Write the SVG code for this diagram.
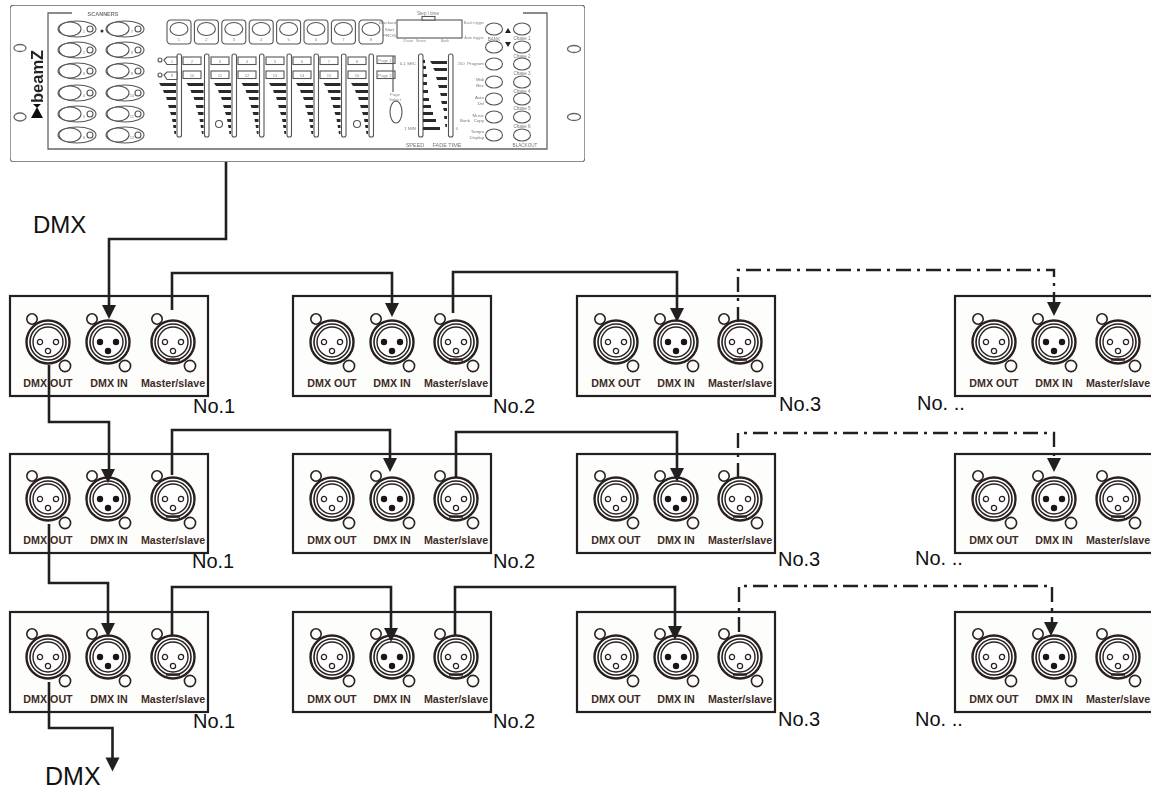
<svg xmlns="http://www.w3.org/2000/svg" width="1151" height="790" viewBox="0 0 1151 790">
<style>
text{font-family:"Liberation Sans",Arial,sans-serif}
.box{fill:#fdfdfb;stroke:#231f20;stroke-width:2.2}
.jl{font-size:10.7px;font-weight:700;fill:#3d2b26;text-anchor:middle}
.no{font-size:20px;fill:#111}
.big{font-size:24px;fill:#111}
.wire{fill:none;stroke:#231f20;stroke-width:2.6}
.dash{fill:none;stroke:#231f20;stroke-width:2.4;stroke-dasharray:15 6 3 6}
.head{fill:#231f20}
.pl{fill:none;stroke:#666;stroke-width:1.3}
.ph{fill:#fff;stroke:#555;stroke-width:1.1}
.t{font-size:4.6px;fill:#777;text-anchor:middle}
.te{font-size:4.4px;fill:#777;text-anchor:end}
.ts{font-size:4.2px;fill:#888;text-anchor:middle}
.tl{font-size:5.5px;fill:#777;text-anchor:middle}
.r{fill:none;stroke:#2a2020}
</style>
<defs>
<filter id="soft" x="0" y="0" width="1" height="1"><feGaussianBlur stdDeviation="0.35"/></filter>
<g id="ring">
<circle class="r" cx="-16" cy="-23" r="5.2" stroke-width="1.6" fill="#fff"/>
<circle class="r" cx="17" cy="24" r="5.6" stroke-width="1.6" fill="#fff"/>
<circle cx="0" cy="0" r="21.5" fill="#fff" stroke="#2a2020" stroke-width="2.4"/>
<circle class="r" r="18" stroke-width="1.6"/>
<circle class="r" r="15" stroke-width="1.4"/>
</g>
<g id="xlr-open"><use href="#ring"/>
<circle class="r" cx="-8" cy="0" r="2.6" stroke-width="1.3"/><circle class="r" cx="8" cy="0" r="2.6" stroke-width="1.3"/><circle class="r" cx="0" cy="9" r="2.6" stroke-width="1.3"/></g>
<g id="xlr-in"><use href="#ring"/>
<circle cx="-8" cy="0" r="3.2" fill="#1d1515"/><circle cx="8" cy="0" r="3.2" fill="#1d1515"/><circle cx="0" cy="9" r="3.2" fill="#1d1515"/></g>
<g id="xlr-ms"><use href="#xlr-open"/><path d="M-7 17.5h14" stroke="#2a2020" stroke-width="2.4"/></g>
<g id="fader">
<rect class="ph" x="-2" y="54" width="4.5" height="83" rx="2"/>
<path fill="#2b2b2b" d="M-20 83h17v3h-15zM-16 90h13v3h-12zM-13 97h10v3h-9zM-11 105h8v3h-7zM-9 112h6v3h-5zM-7 119h4v3h-3.500zM-6 125h3v3h-2.500zM-5 131h2v3h-1.500z"/>
</g>
<g id="scan">
<ellipse class="ph" rx="19" ry="8"/><ellipse class="ph" cx="-7" rx="11" ry="7"/><circle class="ph" cx="13" r="3"/>
</g>
<g id="top"><rect class="ph" x="0" y="0" width="24" height="24" rx="3.500"/><ellipse class="ph" cx="12" cy="9" rx="9" ry="6.500"/></g>
<ellipse id="btn" class="ph" rx="8.500" ry="6"/>
<rect id="cell" class="ph" width="18" height="7.500"/>
<path id="ah" class="head" d="M-7 0H7L0 14Z"/>
</defs>

<g id="controller">
<g filter="url(#soft)">
<rect class="pl" x="10" y="5" width="575" height="157" rx="4"/>
<path class="pl" d="M72 13H48V149H547V13H523"/>
<ellipse class="pl" cx="20" cy="48" rx="6" ry="3.500"/><ellipse class="pl" cx="20" cy="117" rx="6" ry="4"/>
<ellipse class="pl" cx="574" cy="49" rx="6.500" ry="3.500"/><ellipse class="pl" cx="574" cy="117" rx="6.500" ry="3.500"/>
<text transform="translate(43,103) rotate(-90)" font-size="16.500" font-weight="700" fill="#222">beamZ</text>
<path fill="#111" d="M31 118L37 107L43 118ZM33 104h8l-4 4z"/>
<text class="tl" x="103" y="16" style="font-weight:700">SCANNERS</text>
<circle cx="102" cy="31" r="1.500" fill="#333"/>
<use href="#scan" x="77" y="29"/><use href="#scan" x="125" y="29"/>
<use href="#scan" x="77" y="50"/><use href="#scan" x="125" y="50"/>
<use href="#scan" x="77" y="71"/><use href="#scan" x="125" y="71"/>
<use href="#scan" x="77" y="93"/><use href="#scan" x="125" y="93"/>
<use href="#scan" x="77" y="114"/><use href="#scan" x="125" y="114"/>
<use href="#scan" x="77" y="135"/><use href="#scan" x="125" y="135"/>
<text class="ts" x="84" y="33">1</text><text class="ts" x="132" y="33">7</text>
<text class="ts" x="84" y="54">2</text><text class="ts" x="132" y="54">8</text>
<text class="ts" x="84" y="75">3</text><text class="ts" x="132" y="75">9</text>
<text class="ts" x="84" y="97">4</text><text class="ts" x="132" y="97">10</text>
<text class="ts" x="84" y="118">5</text><text class="ts" x="132" y="118">11</text>
<text class="ts" x="84" y="139">6</text><text class="ts" x="132" y="139">12</text>
<use href="#top" x="167" y="20"/><use href="#top" x="194.400" y="20"/><use href="#top" x="221.800" y="20"/><use href="#top" x="249.200" y="20"/><use href="#top" x="276.600" y="20"/><use href="#top" x="304" y="20"/><use href="#top" x="331.400" y="20"/><use href="#top" x="359" y="20"/>
<text class="ts" x="179" y="41">1</text><text class="ts" x="206.400" y="41">2</text><text class="ts" x="233.800" y="41">3</text><text class="ts" x="261.200" y="41">4</text><text class="ts" x="288.600" y="41">5</text><text class="ts" x="316" y="41">6</text><text class="ts" x="343.400" y="41">7</text><text class="ts" x="371" y="41">8</text>
<use href="#fader" x="179"/><use href="#fader" x="206.500"/><use href="#fader" x="234"/><use href="#fader" x="261.500"/><use href="#fader" x="289"/><use href="#fader" x="316"/><use href="#fader" x="343.500"/><use href="#fader" x="371"/>
<circle class="ph" cx="160" cy="60" r="2"/><circle class="ph" cx="160" cy="75" r="2"/>
<path class="ph" d="M164 60l3-3h10v7.500h-10zM164 75l3-3h10v7.500h-10z"/>
<use href="#cell" x="183" y="57"/><use href="#cell" x="183" y="71"/>
<use href="#cell" x="211" y="57"/><use href="#cell" x="211" y="71"/>
<use href="#cell" x="238" y="57"/><use href="#cell" x="238" y="71"/>
<use href="#cell" x="266" y="57"/><use href="#cell" x="266" y="71"/>
<use href="#cell" x="293" y="57"/><use href="#cell" x="293" y="71"/>
<use href="#cell" x="320" y="57"/><use href="#cell" x="320" y="71"/>
<use href="#cell" x="348" y="57"/><use href="#cell" x="348" y="71"/>
<text class="ts" x="172" y="62.500">1</text><text class="ts" x="192" y="62.500">2</text><text class="ts" x="220" y="62.500">3</text><text class="ts" x="247" y="62.500">4</text><text class="ts" x="275" y="62.500">5</text><text class="ts" x="302" y="62.500">6</text><text class="ts" x="329" y="62.500">7</text><text class="ts" x="357" y="62.500">8</text>
<text class="ts" x="172" y="77">9</text><text class="ts" x="192" y="77">10</text><text class="ts" x="220" y="77">11</text><text class="ts" x="247" y="77">12</text><text class="ts" x="275" y="77">13</text><text class="ts" x="302" y="77">14</text><text class="ts" x="329" y="77">15</text><text class="ts" x="357" y="77">16</text>
<circle class="ph" cx="219" cy="124" r="3.500"/><circle class="ph" cx="357" cy="124" r="3.500"/>
<use href="#cell" x="377" y="56"/><use href="#cell" x="377" y="71"/>
<path class="pl" d="M393 56V92"/>
<text class="ts" x="385" y="62">Page 1</text><text class="ts" x="385" y="77">Page 2</text>
<text class="ts" x="395" y="96">Page</text><text class="ts" x="395" y="101">Select</text>
<ellipse class="ph" cx="396" cy="112" rx="6" ry="11"/>
<rect class="ph" x="397" y="20" width="65" height="18"/>
<rect class="ph" x="422" y="16.500" width="13" height="3.500"/>
<text class="t" x="428" y="15">Step / time</text>
<text class="te" x="396" y="24">Blackout</text><text class="te" x="394" y="31">Start</text><text class="te" x="396" y="37">PROG</text>
<text class="ts" x="474" y="24" style="font-size:3.800px">Back trigger</text><text class="ts" x="474" y="39" style="font-size:3.800px">Auto trigger</text>
<text class="ts" x="408" y="42" style="font-size:3.600px">Chase</text><text class="ts" x="421" y="42" style="font-size:3.600px">Scene</text><text class="ts" x="445" y="42" style="font-size:3.600px">Bank</text>
<rect class="ph" x="418.500" y="54" width="4.500" height="83" rx="2"/>
<rect class="ph" x="448.500" y="54" width="4.500" height="83" rx="2"/>
<path fill="#2b2b2b" d="M423 60h2v3h-2zM423 66h3v3h-3zM423 74h4v3h-4zM423 82h4v3h-4zM423 90h5v3h-5zM423 98h6v3h-6zM423 105h8v3h-8zM423 112h10v3h-10zM423 119h13v3h-13zM423 127h17v3h-17z"/>
<path fill="#2b2b2b" d="M430 61h17v3h-15zM433 68h14v3h-12zM436 77h11v3h-10zM438 85h9v3h-8zM440 93h7v3h-6zM441 101h6v3h-5zM443 108h4v3h-3zM444 116h3v3h-2.500zM445 124h2v3h-1.500z"/>
<text class="te" x="416" y="65">0.1 SEC</text><text class="te" x="416" y="130">1 MIN</text>
<text class="ts" x="461" y="65">200</text><text class="ts" x="457" y="130">0</text>
<text class="tl" x="415" y="147">SPEED</text><text class="tl" x="447" y="147">FADE TIME</text>
<use href="#btn" x="494" y="29"/><use href="#btn" x="494" y="47"/><use href="#btn" x="494" y="64"/><use href="#btn" x="494" y="82"/><use href="#btn" x="494" y="99"/><use href="#btn" x="494" y="117"/><use href="#btn" x="494" y="135"/>
<use href="#btn" x="522" y="29"/><use href="#btn" x="522" y="47"/><use href="#btn" x="522" y="64"/><use href="#btn" x="522" y="82"/><use href="#btn" x="522" y="99"/><use href="#btn" x="522" y="117"/><use href="#btn" x="522" y="135"/>
<path fill="#222" d="M505 33l3-5 3 5zM505 42l3 5 3-5z"/>
<text class="t" x="494" y="40.500">BANK</text>
<text class="t" x="522" y="40">Chase 1</text><text class="t" x="522" y="57.500">Chase 2</text><text class="t" x="522" y="75">Chase 3</text><text class="t" x="522" y="92.500">Chase 4</text><text class="t" x="522" y="110">Chase 5</text><text class="t" x="522" y="128">Chase 6</text>
<text class="te" x="484" y="65">Program</text>
<text class="te" x="484" y="81">Midi</text><text class="te" x="484" y="87">Rec</text>
<text class="te" x="484" y="99">Auto</text><text class="te" x="484" y="105">Del</text>
<text class="te" x="484" y="117">Music</text><text class="te" x="484" y="122">Copy</text><text class="te" x="470" y="122">Bank</text>
<text class="te" x="484" y="133">Tempo</text><text class="te" x="484" y="139">Display</text>
<text class="t" x="525" y="147">BLACKOUT</text>
</g>
</g>

<g id="r1n1" transform="translate(10,296)"><rect class="box" width="198" height="100"/><use href="#xlr-open" x="38" y="46"/><use href="#xlr-in" x="98" y="46"/><use href="#xlr-ms" x="163" y="46"/><text class="jl" x="38" y="91">DMX OUT</text><text class="jl" x="99" y="91">DMX IN</text><text class="jl" x="163" y="91">Master/slave</text></g>
<g id="r1n2" transform="translate(293,296)"><rect class="box" width="198" height="100"/><use href="#xlr-open" x="39" y="46"/><use href="#xlr-in" x="99" y="46"/><use href="#xlr-ms" x="163" y="46"/><text class="jl" x="39" y="91">DMX OUT</text><text class="jl" x="99" y="91">DMX IN</text><text class="jl" x="163" y="91">Master/slave</text></g>
<g id="r1n3" transform="translate(577,296)"><rect class="box" width="198" height="100"/><use href="#xlr-open" x="39" y="46"/><use href="#xlr-in" x="99" y="46"/><use href="#xlr-ms" x="163" y="46"/><text class="jl" x="39" y="91">DMX OUT</text><text class="jl" x="99" y="91">DMX IN</text><text class="jl" x="163" y="91">Master/slave</text></g>
<g id="r1n4" transform="translate(955,296)"><rect class="box" width="198" height="100"/><use href="#xlr-open" x="39" y="46"/><use href="#xlr-in" x="99" y="46"/><use href="#xlr-ms" x="163" y="46"/><text class="jl" x="39" y="91">DMX OUT</text><text class="jl" x="99" y="91">DMX IN</text><text class="jl" x="163" y="91">Master/slave</text></g>

<g id="r2n1" transform="translate(10,454)"><rect class="box" width="198" height="99"/><use href="#xlr-open" x="38" y="45"/><use href="#xlr-in" x="98" y="45"/><use href="#xlr-ms" x="163" y="45"/><text class="jl" x="38" y="90">DMX OUT</text><text class="jl" x="99" y="90">DMX IN</text><text class="jl" x="163" y="90">Master/slave</text></g>
<g id="r2n2" transform="translate(293,454)"><rect class="box" width="198" height="99"/><use href="#xlr-open" x="39" y="45"/><use href="#xlr-in" x="99" y="45"/><use href="#xlr-ms" x="163" y="45"/><text class="jl" x="39" y="90">DMX OUT</text><text class="jl" x="99" y="90">DMX IN</text><text class="jl" x="163" y="90">Master/slave</text></g>
<g id="r2n3" transform="translate(577,454)"><rect class="box" width="198" height="99"/><use href="#xlr-open" x="39" y="45"/><use href="#xlr-in" x="99" y="45"/><use href="#xlr-ms" x="163" y="45"/><text class="jl" x="39" y="90">DMX OUT</text><text class="jl" x="99" y="90">DMX IN</text><text class="jl" x="163" y="90">Master/slave</text></g>
<g id="r2n4" transform="translate(955,454)"><rect class="box" width="198" height="99"/><use href="#xlr-open" x="39" y="45"/><use href="#xlr-in" x="99" y="45"/><use href="#xlr-ms" x="163" y="45"/><text class="jl" x="39" y="90">DMX OUT</text><text class="jl" x="99" y="90">DMX IN</text><text class="jl" x="163" y="90">Master/slave</text></g>

<g id="r3n1" transform="translate(10,612)"><rect class="box" width="198" height="100"/><use href="#xlr-open" x="38" y="45"/><use href="#xlr-in" x="98" y="45"/><use href="#xlr-ms" x="163" y="45"/><text class="jl" x="38" y="91">DMX OUT</text><text class="jl" x="99" y="91">DMX IN</text><text class="jl" x="163" y="91">Master/slave</text></g>
<g id="r3n2" transform="translate(293,612)"><rect class="box" width="198" height="100"/><use href="#xlr-open" x="39" y="45"/><use href="#xlr-in" x="99" y="45"/><use href="#xlr-ms" x="163" y="45"/><text class="jl" x="39" y="91">DMX OUT</text><text class="jl" x="99" y="91">DMX IN</text><text class="jl" x="163" y="91">Master/slave</text></g>
<g id="r3n3" transform="translate(577,612)"><rect class="box" width="198" height="100"/><use href="#xlr-open" x="39" y="45"/><use href="#xlr-in" x="99" y="45"/><use href="#xlr-ms" x="163" y="45"/><text class="jl" x="39" y="91">DMX OUT</text><text class="jl" x="99" y="91">DMX IN</text><text class="jl" x="163" y="91">Master/slave</text></g>
<g id="r3n4" transform="translate(955,612)"><rect class="box" width="198" height="100"/><use href="#xlr-open" x="39" y="45"/><use href="#xlr-in" x="99" y="45"/><use href="#xlr-ms" x="163" y="45"/><text class="jl" x="39" y="91">DMX OUT</text><text class="jl" x="99" y="91">DMX IN</text><text class="jl" x="163" y="91">Master/slave</text></g>

<g id="connectors">
<path class="wire" d="M226 162V239H109V306"/><use href="#ah" x="109" y="305"/>
<path class="wire" d="M172 310V273H392V304"/><use href="#ah" x="392" y="303"/>
<path class="wire" d="M453 313V272H677V309"/><use href="#ah" x="677" y="308"/>
<path class="dash" d="M738 322V270H1054V303"/><use href="#ah" x="1054" y="302"/>
<path class="wire" d="M49 365V422H109V470"/><use href="#ah" x="108" y="469"/>
<path class="wire" d="M172 475V430H390V459"/><use href="#ah" x="390" y="458"/>
<path class="wire" d="M456 478V432H677V469"/><use href="#ah" x="677" y="468"/>
<path class="dash" d="M738 478V433H1054V459"/><use href="#ah" x="1054" y="458"/>
<path class="wire" d="M49 524V583H108V624"/><use href="#ah" x="108" y="623"/>
<path class="wire" d="M172 635V587H391V629"/><use href="#ah" x="391" y="628"/>
<path class="wire" d="M455 635V587H675V627"/><use href="#ah" x="675" y="626"/>
<path class="dash" d="M739 632V586H1052V623"/><use href="#ah" x="1051" y="622"/>
<path class="wire" d="M49 682V728H112.500V758"/><use href="#ah" x="112.500" y="757.500"/>
</g>

<g id="labels">
<text class="big" x="33" y="233">DMX</text>
<text class="big" x="45" y="785" style="font-size:25px">DMX</text>
<text class="no" x="193" y="413">No.1</text><text class="no" x="493" y="413">No.2</text><text class="no" x="779" y="411">No.3</text><text class="no" x="917" y="410">No. ..</text>
<text class="no" x="192" y="568">No.1</text><text class="no" x="493" y="568">No.2</text><text class="no" x="778" y="566">No.3</text><text class="no" x="915" y="565">No. ..</text>
<text class="no" x="193" y="728">No.1</text><text class="no" x="493" y="728">No.2</text><text class="no" x="778" y="726">No.3</text><text class="no" x="915" y="726">No. ..</text>
</g>
</svg>
